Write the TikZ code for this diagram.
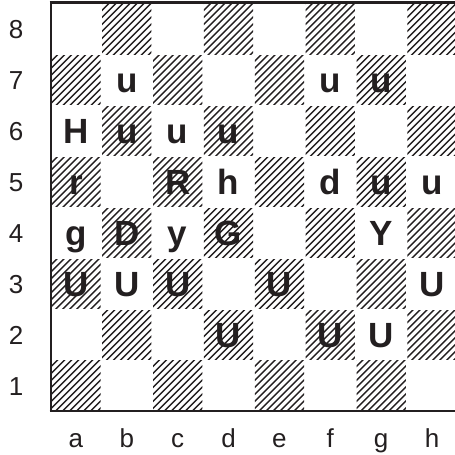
\documentclass[tikz,border=0pt]{standalone}
\usepackage{fontspec}
\setmainfont{Liberation Sans}
\definecolor{ink}{HTML}{231F20}
\begin{document}
\begin{tikzpicture}[x=1pt,y=1pt,
  piece/.style={font=\fontsize{35}{35}\selectfont\bfseries, text=ink, anchor=base, inner sep=0pt},
  coordlabel/.style={font=\fontsize{26}{26}\selectfont, text=ink, anchor=base, inner sep=0pt},
  hatchline/.style={draw=ink, line width=1.5pt},
  frame/.style={draw=ink, line width=2pt}]
\useasboundingbox (0,0) rectangle (455,455);
\fill[white] (0,0) rectangle (455,455);
\def\sq{50.875}
\def\bx{50.5}
\def\by{44}
% dark squares, hatched with explicit lines
\foreach \i in {0,...,7} {
  \foreach \j in {0,...,7} {
    \pgfmathparse{int(mod(\i+\j,2))}
    \ifnum\pgfmathresult=0
      \pgfmathsetmacro\xa{\bx+\i*\sq}
      \pgfmathsetmacro\ya{\by+\j*\sq}
      \begin{scope}
        \clip ({\xa+0.8},{\ya+0.8}) rectangle ({\xa+\sq-0.8},{\ya+\sq-0.8});
        \foreach \k in {0,...,15} {
          \draw[hatchline] ({\xa+\k*7-\sq-2},{\ya-2}) -- ({\xa+\k*7+2},{\ya+\sq+2});
        }
      \end{scope}
    \fi
  }
}
% frame
\coordinate (bl) at (50.5,44);
\coordinate (tl) at (50.5,452);
\draw[frame] (bl) -- (tl);
\draw[draw=ink, line width=3pt] (49.5,452) -- (455,452);
\draw[frame] (49.5,44) -- (458,44);
% rank labels
\foreach \r in {1,...,8} {
  \node[coordlabel] (rank\r) at (16,{\by+(\r-0.5)*\sq-9.5}) {\r};
}
% file labels
\foreach \c/\f in {1/a,2/b,3/c,4/d,5/e,6/f,7/g,8/h} {
  \node[coordlabel] (file\f) at ({\bx+(\c-0.5)*\sq},7) {\f};
}
% pieces
\foreach \c/\r/\t in {
  2/7/u, 6/7/u, 7/7/u,
  1/6/H, 2/6/u, 3/6/u, 4/6/u,
  1/5/r, 3/5/R, 4/5/h, 6/5/d, 7/5/u, 8/5/u,
  1/4/g, 2/4/D, 3/4/y, 4/4/G, 7/4/Y,
  1/3/U, 2/3/U, 3/3/U, 5/3/U, 8/3/U,
  4/2/U, 6/2/U, 7/2/U} {
  \node[piece] (p\c\r) at ({\bx+(\c-0.5)*\sq},{\by+(\r-0.5)*\sq-12.5}) {\t};
}
\end{tikzpicture}
\end{document}
